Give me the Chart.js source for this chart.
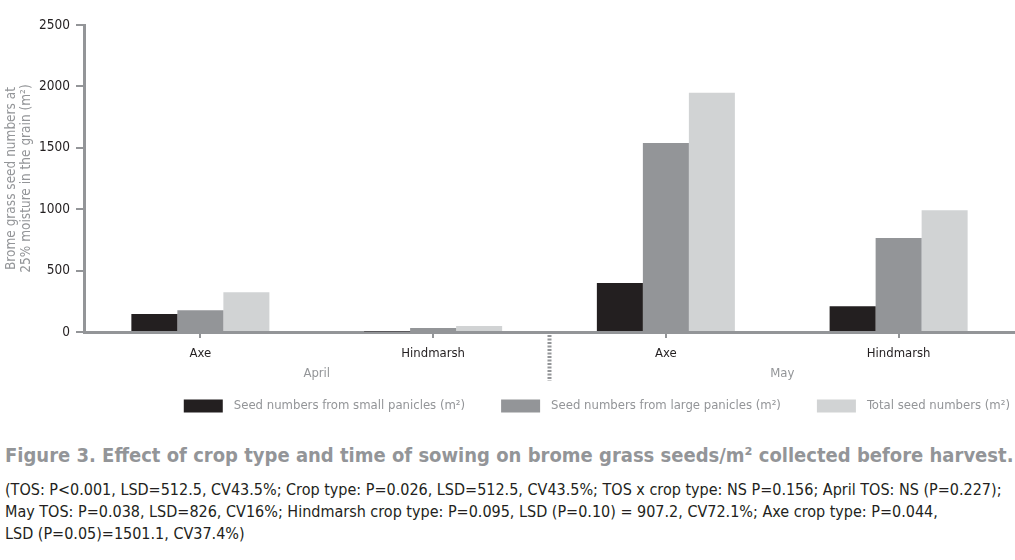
<!DOCTYPE html>
<html lang="en">
<head>
<meta charset="UTF-8">
<title>Brome grass seeds before harvest</title>
<script src="https://cdn.jsdelivr.net/npm/chart.js@4.4.1/dist/chart.umd.min.js"></script>
<style>
  html, body { margin: 0; padding: 0; background: #fff; }
  .wrap { position: relative; width: 1015px; height: 424px; }
  .fig {
    margin: 19px 0 0 5px;
    font-family: "Liberation Sans Narrow", "DejaVu Sans Condensed", sans-serif;
    font-weight: bold; font-size: 20px; line-height: 24px; color: #939598; white-space: nowrap;
  }
  .notes {
    margin: 12px 0 0 5px;
    font-family: "Liberation Sans Narrow", "DejaVu Sans Condensed", sans-serif;
    font-size: 16px; line-height: 22px; color: #231f20; white-space: nowrap;
  }
</style>
</head>
<body>
<div class="wrap"><canvas id="seeds"></canvas></div>
<div class="fig">Figure 3. Effect of crop type and time of sowing on brome grass seeds/m² collected before harvest.</div>
<div class="notes">(TOS: P&lt;0.001, LSD=512.5, CV43.5%; Crop type: P=0.026, LSD=512.5, CV43.5%; TOS x crop type: NS P=0.156; April TOS: NS (P=0.227);<br>May TOS: P=0.038, LSD=826, CV16%; Hindmarsh crop type: P=0.095, LSD (P=0.10) = 907.2, CV72.1%; Axe crop type: P=0.044,<br>LSD (P=0.05)=1501.1, CV37.4%)</div>

<script>
// data
const crops = ['Axe', 'Hindmarsh', 'Axe', 'Hindmarsh'];
const sowingTimes = ['April', 'May'];
const seriesNames = ['Seed numbers from small panicles (m²)', 'Seed numbers from large panicles (m²)', 'Total seed numbers (m²)'];
const smallPanicles = [147, 5, 399, 209];
const largePanicles = [177, 33, 1540, 766];
const totalSeeds = [324, 49, 1948, 992];
const yMax = 2500;
const yStep = 500;

const FONT = '"Liberation Sans Narrow", "DejaVu Sans Condensed", sans-serif';
const AXIS = '#939598';
const colors = ['#231f20', '#939598', '#d1d3d4'];

// April / May labels and the dashed divider between them
const groupPlugin = {
    id: 'groups',
    afterDraw(chart) {
        const ctx = chart.ctx;
        const x = chart.scales.x;
        const bottom = chart.chartArea.bottom;
        ctx.save();
        ctx.font = '13px ' + FONT;
        ctx.fillStyle = AXIS;
        ctx.textAlign = 'center';
        ctx.textBaseline = 'alphabetic';
        for (let g = 0; g < sowingTimes.length; g++) {
            const cx = (x.getPixelForValue(g * 2) + x.getPixelForValue(g * 2 + 1)) / 2;
            ctx.fillText(sowingTimes[g], cx, 377);
        }
        const sx = (x.getPixelForValue(1) + x.getPixelForValue(2)) / 2;
        ctx.strokeStyle = AXIS;
        ctx.lineWidth = 4;
        ctx.setLineDash([2, 1.5]);
        ctx.beginPath();
        ctx.moveTo(sx, bottom + 3);
        ctx.lineTo(sx, 381);
        ctx.stroke();
        ctx.restore();
    }
};

// legend row, right aligned under the plot
const legendPlugin = {
    id: 'legendRow',
    afterDraw(chart) {
        const ctx = chart.ctx;
        const sets = chart.data.datasets;
        ctx.save();
        ctx.font = '13px ' + FONT;
        ctx.textBaseline = 'middle';
        ctx.textAlign = 'left';
        const boxW = 39, boxH = 13, gap = 11, space = 36, cy = 406;
        let total = 0;
        sets.forEach((d, i) => {
            total += boxW + gap + ctx.measureText(d.label).width;
            if (i < sets.length - 1) total += space;
        });
        let x = 1010 - total;
        sets.forEach(d => {
            ctx.fillStyle = d.backgroundColor;
            ctx.fillRect(x, cy - boxH / 2, boxW, boxH);
            x += boxW + gap;
            ctx.fillStyle = AXIS;
            ctx.fillText(d.label, x, cy);
            x += ctx.measureText(d.label).width + space;
        });
        ctx.restore();
    }
};

new Chart(document.getElementById('seeds'), {
    type: 'bar',
    data: {
        labels: crops,
        datasets: [
            { label: seriesNames[0], data: smallPanicles, backgroundColor: colors[0] },
            { label: seriesNames[1], data: largePanicles, backgroundColor: colors[1] },
            { label: seriesNames[2], data: totalSeeds, backgroundColor: colors[2] }
        ]
    },
    options: {
        responsive: true,
        maintainAspectRatio: false,
        animation: false,
        layout: { padding: { top: 25, right: 0, left: 0, bottom: 0 } },
        datasets: { bar: { categoryPercentage: 0.593, barPercentage: 1.0 } },
        plugins: { legend: { display: false }, tooltip: { enabled: false } },
        scales: {
            x: {
                grid: { drawOnChartArea: false, offset: false, tickLength: 6, color: AXIS, lineWidth: 2 },
                border: { color: AXIS, width: 3 },
                ticks: { color: '#231f20', font: { family: FONT, size: 13 }, padding: 8 },
                afterFit(scale) { scale.height = 92; }
            },
            y: {
                min: 0, max: yMax,
                ticks: {
                    stepSize: yStep, color: '#231f20', font: { family: FONT, size: 13.5 }, padding: 6,
                    callback: v => String(v)
                },
                grid: { drawOnChartArea: false, tickLength: 8, color: AXIS, lineWidth: 2 },
                border: { color: AXIS, width: 3 },
                title: {
                    display: true,
                    text: ['Brome grass seed numbers at', '25% moisture in the grain (m²)'],
                    color: AXIS,
                    font: { family: FONT, size: 13.5, lineHeight: 1.1 },
                    padding: { top: 4, bottom: 0 }
                },
                afterFit(scale) { scale.width = 84; }
            }
        }
    },
    plugins: [groupPlugin, legendPlugin]
});
</script>
</body>
</html>
